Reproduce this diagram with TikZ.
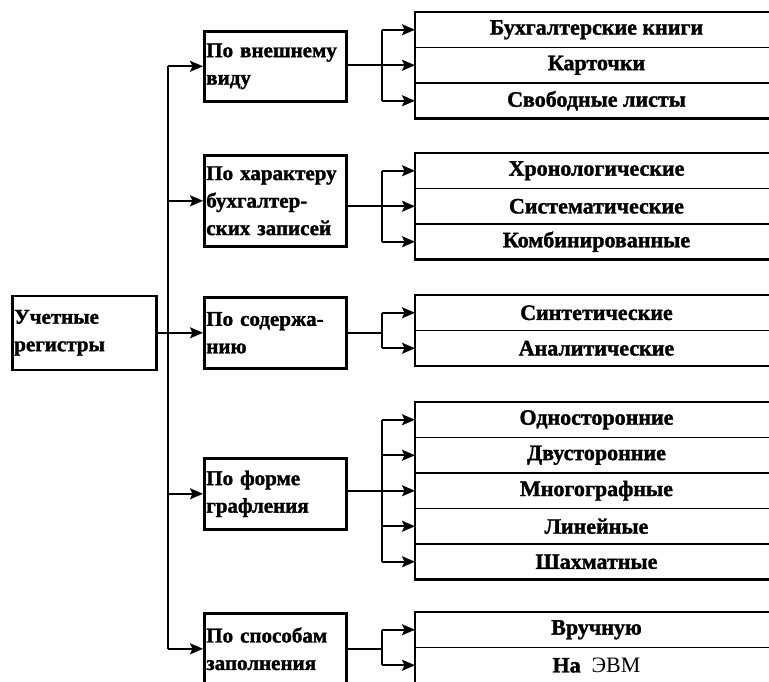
\documentclass[tikz,border=0pt]{standalone}
\usepackage{fontspec}
\setmainfont{Liberation Serif}[BoldFeatures={FakeBold=1.5}]
\usetikzlibrary{positioning,arrows.meta}

\begin{document}
\begin{tikzpicture}[x=1pt,y=-1pt,
    box/.style={draw,line width=2.6pt,anchor=north west,inner xsep=2pt,inner ysep=0pt,
      align=left,font=\fontsize{21}{27.5}\bfseries\selectfont},
    row/.style={minimum width=363pt,minimum height=35.5pt,inner sep=0pt,outer sep=0pt,
      anchor=north west,font=\fontsize{22}{24}\bfseries\selectfont},
    frame/.style={line width=2.6pt},
    sep/.style={line width=1.6pt},
    link/.style={line width=1.8pt},
    busline/.style={line width=2.6pt},
    arr/.style={line width=1.8pt,-{Stealth[length=13pt,width=11pt,inset=2.5pt]}}]
                \useasboundingbox (0,0) rectangle (769,681);
                \clip (0,0) rectangle (769,681);
                \node [box,text width=140pt,minimum height=74pt] (root) at (11,294.5) {Учетные\\регистры};
                \node [box,text width=138pt,minimum height=70pt] (box1) at (203,30) {По внешнему\\виду};
                \node [box,text width=138pt,minimum height=91pt] (box2) at (203,154) {По характеру\\бухгалтер-\\ских записей};
                \node [box,text width=138pt,minimum height=71pt] (box3) at (203,296) {По содержа-\\нию};
                \node [box,text width=138pt,minimum height=71pt] (box4) at (203,457) {По форме\\графления};
                \node [box,text width=138pt,minimum height=71pt] (box5) at (203,612) {По способам\\заполнения};
                \node [row] (g1a) at (415,12) {Бухгалтерские книги};
                \node [row,below=0pt of g1a] (g1b) {Карточки};
                \node [row,below=0pt of g1b] (g1c) {Свободные листы};
                \node [row] (g2a) at (415,153) {Хронологические};
                \node [row,below=0pt of g2a] (g2b) {Систематические};
                \node [row,below=0pt of g2b] (g2c) {Комбинированные};
                \node [row] (g3a) at (415,295) {Синтетические};
                \node [row,below=0pt of g3a] (g3b) {Аналитические};
                \node [row] (g4a) at (415,402) {Односторонние};
                \node [row,below=0pt of g4a] (g4b) {Двусторонние};
                \node [row,below=0pt of g4b] (g4c) {Многографные};
                \node [row,below=0pt of g4c] (g4d) {Линейные};
                \node [row,below=0pt of g4d] (g4e) {Шахматные};
                \node [row] (g5a) at (415,612) {Вручную};
                \node [row,below=0pt of g5a] (g5b) {На\ \ {\mdseries ЭВМ}};
                \draw [frame] (g1a.north west) rectangle (g1c.south east);
                \draw [frame] (g2a.north west) rectangle (g2c.south east);
                \draw [frame] (g3a.north west) rectangle (g3b.south east);
                \draw [frame] (g4a.north west) rectangle (g4e.south east);
                \draw [frame] (g5a.north west) rectangle (g5b.south east);
                \foreach \r in {g1a,g1b,g2a,g2b,g3a,g4a,g4b,g4c,g4d,g5a}
                  \draw [sep] (\r.south west) -- (\r.south east);
                \coordinate (bus) at (168,0);
                \coordinate (fork) at (382,0);
                \draw [busline] (bus |- box1.west) -- (bus |- box5.west);
                \draw [arr] (root.east) -- (box3.west |- root.east);
                \foreach \b in {box1,box2,box4,box5}
                  \draw [arr] (bus |- \b.west) -- (\b.west);
                \draw [link] (box1.east |- g1b.west) -- (fork |- g1b.west);
                \draw [link] (box2.east |- g2b.west) -- (fork |- g2b.west);
                \draw [link] (box3.east) -- (fork |- box3.east);
                \draw [link] (box4.east |- g4c.west) -- (fork |- g4c.west);
                \draw [link] (box5.east) -- (fork |- box5.east);
                \draw [link] (fork |- g1a.west) -- (fork |- g1c.west);
                \draw [link] (fork |- g2a.west) -- (fork |- g2c.west);
                \draw [link] (fork |- g3a.west) -- (fork |- g3b.west);
                \draw [link] (fork |- g4a.west) -- (fork |- g4e.west);
                \draw [link] (fork |- g5a.west) -- (fork |- g5b.west);
                \foreach \r in {g1a,g1b,g1c,g2a,g2b,g2c,g3a,g3b,g4a,g4b,g4c,g4d,g4e,g5a,g5b}
                  \draw [arr] (fork |- \r.west) -- (\r.west);
              \end{tikzpicture}
\end{document}
